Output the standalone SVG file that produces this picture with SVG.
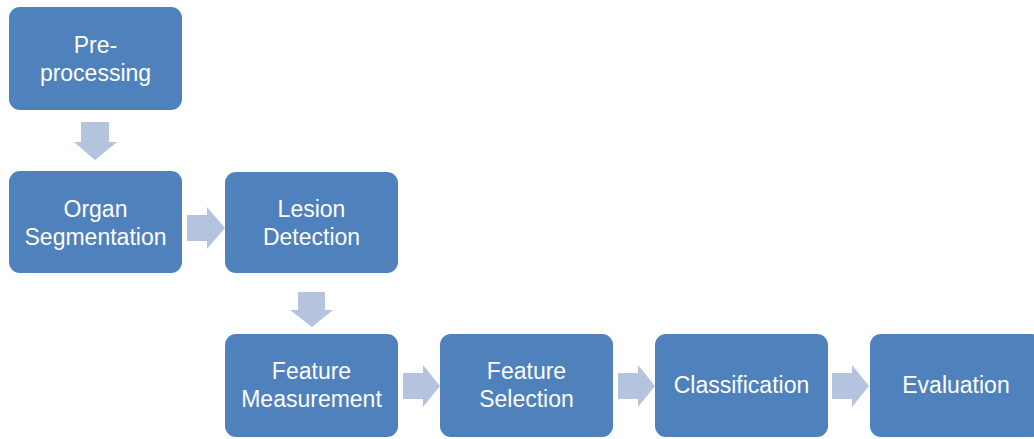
<svg xmlns="http://www.w3.org/2000/svg" width="1034" height="439" viewBox="0 0 1034 439">
<style>
.box{fill:#4F81BD;}
.arr{fill:#B4C4DE;}
text{font-family:"Liberation Sans",Arial,sans-serif;font-size:23px;fill:#FFFFFF;text-anchor:middle;}
</style>
<rect width="1034" height="439" fill="#FFFFFF"/>
<g id="connectors">
<polygon class="arr" points="81,122 109,122 109,142 117,142 95,160 74,142 81,142"/>
<polygon class="arr" points="187,215 207,215 207,207 225,228 207,249 207,241 187,241"/>
<polygon class="arr" points="298,292 325,292 325,310 333,310 312,327 290,310 298,310"/>
<polygon class="arr" points="403,373 423,373 423,365 440,386 423,407 423,399 403,399"/>
<polygon class="arr" points="618,373 638,373 638,365 655,386 638,407 638,399 618,399"/>
<polygon class="arr" points="832,373 852,373 852,365 869,386 852,407 852,399 832,399"/>
</g>
<g id="preprocessing"><rect class="box" x="9" y="7" width="173" height="103" rx="11"/><text x="95.5" y="53">Pre-</text><text x="95.5" y="81">processing</text></g>
<g id="organ-segmentation"><rect class="box" x="9" y="171" width="173" height="102" rx="11"/><text x="95.5" y="217">Organ</text><text x="95.5" y="245">Segmentation</text></g>
<g id="lesion-detection"><rect class="box" x="225" y="172" width="173" height="101" rx="11"/><text x="311.5" y="217">Lesion</text><text x="311.5" y="245">Detection</text></g>
<g id="feature-measurement"><rect class="box" x="225" y="334" width="173" height="103" rx="11"/><text x="311.5" y="379">Feature</text><text x="311.5" y="407">Measurement</text></g>
<g id="feature-selection"><rect class="box" x="440" y="334" width="173" height="103" rx="11"/><text x="526.5" y="379">Feature</text><text x="526.5" y="407">Selection</text></g>
<g id="classification"><rect class="box" x="655" y="334" width="173" height="103" rx="11"/><text x="741.5" y="393">Classification</text></g>
<g id="evaluation"><rect class="box" x="870" y="334" width="173" height="103" rx="11"/><text x="956" y="393">Evaluation</text></g>
</svg>
